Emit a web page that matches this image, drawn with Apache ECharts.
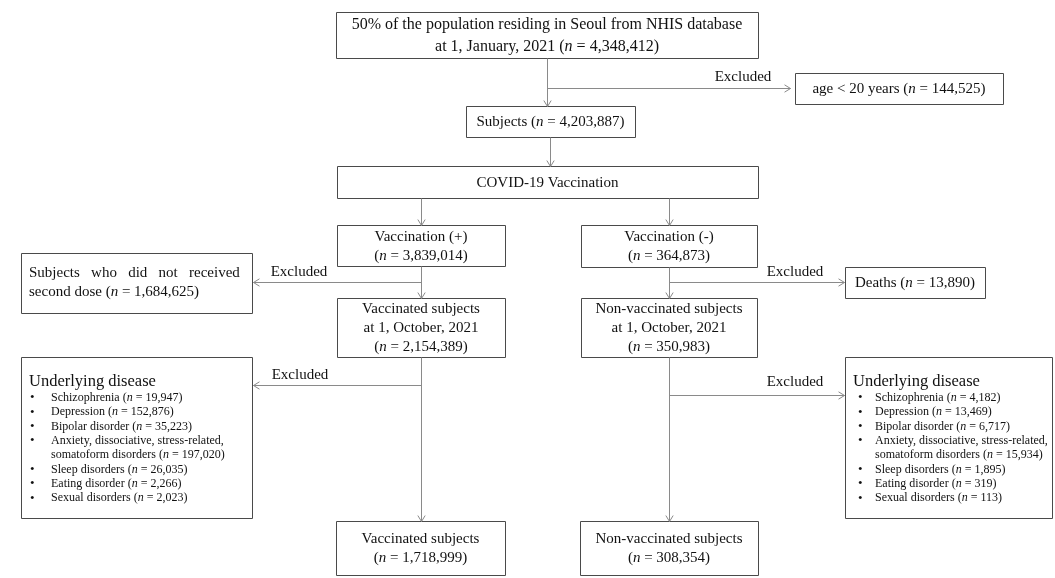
<!DOCTYPE html>
<html>
<head>
<meta charset="utf-8">
<script src="https://cdn.jsdelivr.net/npm/echarts@6/dist/echarts.min.js"></script>
<style>
  html, body { margin: 0; padding: 0; background: #fff; }
  #flow { width: 1055px; height: 578px; }
</style>
</head>
<body>
<div id="flow"></div>
<script>
// counts
const sourceCount = 4348412
const ageExcluded = 144525
const subjectCount = 4203887
const vaccCounts = [3839014, 364873]          // (+), (-)
const secondDoseExcluded = 1684625
const deathsExcluded = 13890
const octoberCounts = [2154389, 350983]       // vaccinated, non-vaccinated
const finalCounts = [1718999, 308354]
const diseaseNames = ['Schizophrenia', 'Depression', 'Bipolar disorder',
  'Anxiety, dissociative, stress-related,\nsomatoform disorders',
  'Sleep disorders', 'Eating disorder', 'Sexual disorders']
const diseaseVacc = [19947, 152876, 35223, 197020, 26035, 2266, 2023]
const diseaseNonVacc = [4182, 13469, 6717, 15934, 1895, 319, 113]

const fmt = v => v.toLocaleString('en-US')
const nEq = v => '({i|n} = ' + fmt(v) + ')'

const FONT = '"Liberation Serif", "Times New Roman", serif'
const BOX_LINE = '#4a4a4a'
const LINK = '#8a8a8a'

let g = []

function box (x, y, w, h) {
  g.push({ type: 'rect', shape: { x: x + 0.5, y: y + 0.5, width: w, height: h },
    style: { fill: '#fff', stroke: BOX_LINE, lineWidth: 1 }, z: 1 })
}
function label (x, y, text, opt) {
  opt = opt || {}
  const size = opt.size || 15
  const lh = opt.lh || 19
  g.push({ type: 'text', x: x, y: y, z: 3,
    style: { text: text, fill: '#111', fontFamily: FONT, fontSize: size,
      lineHeight: lh, align: opt.align || 'center',
      verticalAlign: opt.va || 'middle',
      rich: { i: { fontStyle: 'italic', fontFamily: FONT, fontSize: size, lineHeight: lh, fill: '#111' } } } })
}
function textBox (x, y, w, h, text, opt) {
  box(x, y, w, h)
  label(x + w / 2, y + h / 2 + 1, text, opt)
}
function line (pts) {
  g.push({ type: 'polyline', shape: { points: pts.map(p => [p[0] + 0.5, p[1] + 0.5]) },
    style: { stroke: LINK, lineWidth: 1, fill: null }, z: 2 })
}
function arrow (x1, y1, x2, y2) {
  line([[x1, y1], [x2, y2]])
  const a = Math.atan2(y2 - y1, x2 - x1), L = 7, s = 0.55
  line([[x2 - L * Math.cos(a - s), y2 - L * Math.sin(a - s)], [x2, y2],
        [x2 - L * Math.cos(a + s), y2 - L * Math.sin(a + s)]])
}
function excluded (x, y) {
  label(x, y, 'Excluded', { size: 15 })
}
function diseaseBox (x, y, w, h, counts, bulletX, textX) {
  box(x, y, w, h)
  label(x + 8, y + 25, 'Underlying disease', { size: 16.5, align: 'left' })
  let ly = y + 41
  diseaseNames.forEach((name, k) => {
    const parts = name.split('\n')
    label(bulletX, ly, '•', { size: 13, align: 'left' })
    parts.forEach((p, j) => {
      const t = j === parts.length - 1 ? p + ' ' + nEq(counts[k]) : p
      label(textX, ly, t, { size: 12, align: 'left', lh: 14 })
      ly += 14.3
    })
  })
}

// boxes
textBox(336, 12, 422, 46, '50% of the population residing in Seoul from NHIS database\nat 1, January, 2021 ' + nEq(sourceCount), { size: 16, lh: 22 })
textBox(795, 73, 208, 31, 'age < 20 years ' + nEq(ageExcluded))
textBox(466, 106, 169, 31, 'Subjects ' + nEq(subjectCount))
textBox(337, 166, 421, 32, 'COVID-19 Vaccination')
textBox(337, 225, 168, 41, 'Vaccination (+)\n' + nEq(vaccCounts[0]))
textBox(581, 225, 176, 42, 'Vaccination (-)\n' + nEq(vaccCounts[1]))
box(21, 253, 231, 60)
label(29, 283, 'Subjects   who   did   not   received\nsecond dose ' + nEq(secondDoseExcluded), { align: 'left' })
textBox(845, 267, 140, 31, 'Deaths ' + nEq(deathsExcluded))
textBox(337, 298, 168, 59, 'Vaccinated subjects\nat 1, October, 2021\n' + nEq(octoberCounts[0]))
textBox(581, 298, 176, 59, 'Non-vaccinated subjects\nat 1, October, 2021\n' + nEq(octoberCounts[1]))
diseaseBox(21, 357, 231, 161, diseaseVacc, 30, 51)
diseaseBox(845, 357, 207, 161, diseaseNonVacc, 858, 875)
textBox(336, 521, 169, 54, 'Vaccinated subjects\n' + nEq(finalCounts[0]))
textBox(580, 521, 178, 54, 'Non-vaccinated subjects\n' + nEq(finalCounts[1]))

// connectors
arrow(547, 58, 547, 106)
arrow(547, 88, 790, 88); excluded(743, 77)
arrow(550, 137, 550, 166)
arrow(421, 198, 421, 225)
arrow(669, 198, 669, 225)
arrow(421, 266, 421, 298)
arrow(421, 282, 253, 282); excluded(299, 272)
arrow(669, 267, 669, 298)
arrow(669, 282, 844, 282); excluded(795, 272)
arrow(421, 357, 421, 521)
arrow(421, 385, 253, 385); excluded(300, 375)
arrow(669, 357, 669, 521)
arrow(669, 395, 844, 395); excluded(795, 382)

const chart = echarts.init(document.getElementById('flow'))
chart.setOption({
  backgroundColor: '#fff',
  animation: false,
  graphic: g
})
</script>
</body>
</html>
